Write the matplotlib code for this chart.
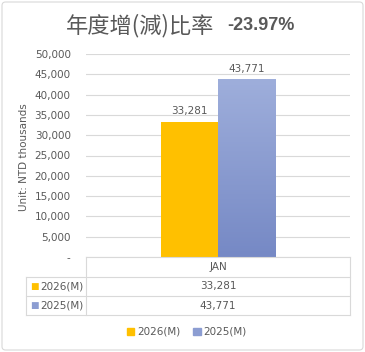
import matplotlib
matplotlib.use("Agg")
import matplotlib.pyplot as plt
import numpy as np
from matplotlib.patches import FancyBboxPatch, Patch
from matplotlib.ticker import FuncFormatter
from matplotlib.colors import LinearSegmentedColormap

# data
categories = ["JAN"]
series_names = ["2026(M)", "2025(M)"]
values_2026 = [33281]
values_2025 = [43771]
change_pct = "-23.97%"
title_text = "年度增(減)比率"
ylabel_text = "Unit: NTD thousands"
yticks = [0, 5000, 10000, 15000, 20000, 25000, 30000, 35000, 40000, 45000, 50000]

orange = "#FFC000"
blue_top = "#9EAEDB"
blue_bot = "#7689C5"
blue_mid = "#8C9DD2"
grey_txt = "#595959"
grid_col = "#D9D9D9"

plt.rcParams["font.family"] = ["DejaVu Sans"]

W, H = 365, 352
fig = plt.figure(figsize=(W / 100, H / 100), dpi=100)

# axes placed by pixel box (left 86, right 350, top 54, bottom 257)
ax = fig.add_axes([86 / W, 1 - 257 / H, 264 / W, 203 / H])

x = np.arange(len(categories))
bw = 0.217
b1 = ax.bar(x - bw / 2, values_2026, bw, color=orange, zorder=3)
b2 = ax.bar(x + bw / 2, values_2025, bw, color=blue_top, zorder=3)

# gradient fill on the blue bar (darker at the bottom)
cmap = LinearSegmentedColormap.from_list("g", [blue_bot, blue_top])
for rect in b2:
    x0, y0 = rect.get_x(), rect.get_y()
    w, h = rect.get_width(), rect.get_height()
    grad = np.linspace(0, 1, 64).reshape(-1, 1)
    im = ax.imshow(grad, cmap=cmap, origin="lower", aspect="auto",
                   extent=[x0, x0 + w, y0, y0 + h], zorder=3.5)
    im.set_clip_path(rect)
ax.set_xlim(-0.5, 0.5)
ax.set_ylim(0, 50000)

for rects, vals in ((b1, values_2026), (b2, values_2025)):
    for r, v in zip(rects, vals):
        ax.annotate(f"{v:,}", (r.get_x() + r.get_width() / 2, r.get_height()),
                    xytext=(0, 4), textcoords="offset points", ha="center",
                    va="bottom", fontsize=7.5, color=grey_txt)

ax.set_yticks(yticks)
ax.yaxis.set_major_formatter(FuncFormatter(lambda v, p: "-" if v == 0 else f"{int(v):,}"))
ax.tick_params(axis="y", length=0, pad=11, labelsize=7.5, labelcolor=grey_txt)
ax.set_xticks([])
ax.grid(axis="y", color=grid_col, linewidth=0.8, zorder=0)
for s in ax.spines.values():
    s.set_visible(False)

fig.text(24 / W, 1 - 157 / H, ylabel_text, rotation=90, ha="center", va="center",
         fontsize=7.5, color=grey_txt)

# data table under the axes
line_kw = dict(color=grid_col, linewidth=0.8)
tl, tr = 26 / W, 350 / W
cl = 86 / W
y_rows = [1 - 257 / H, 1 - 277 / H, 1 - 296 / H, 1 - 315 / H]
fig.add_artist(plt.Line2D([cl, tr], [y_rows[0]] * 2, **line_kw))
for yy in y_rows[1:]:
    fig.add_artist(plt.Line2D([tl, tr], [yy] * 2, **line_kw))
fig.add_artist(plt.Line2D([tl, tl], [y_rows[1], y_rows[3]], **line_kw))
fig.add_artist(plt.Line2D([cl, cl], [y_rows[0], y_rows[3]], **line_kw))
fig.add_artist(plt.Line2D([tr, tr], [y_rows[0], y_rows[3]], **line_kw))

cx = (cl + tr) / 2
fig.text(cx, (y_rows[0] + y_rows[1]) / 2, categories[0], ha="center", va="center",
         fontsize=7.5, color=grey_txt)
row_vals = [values_2026, values_2025]
row_cols = [orange, blue_mid]
for i, name in enumerate(series_names):
    yc = (y_rows[i + 1] + y_rows[i + 2]) / 2
    fig.text(cx, yc, f"{row_vals[i][0]:,}", ha="center", va="center",
             fontsize=7.5, color=grey_txt)
    fig.text(30 / W, yc, "■", ha="left", va="center", fontsize=6.5, color=row_cols[i])
    fig.text(40 / W, yc, name, ha="left", va="center", fontsize=7.5, color=grey_txt)

# legend
handles = [Patch(color=orange), Patch(color=blue_mid)]
fig.legend(handles, series_names, loc="center", bbox_to_anchor=(187 / W, 1 - 332 / H),
           ncol=2, frameon=False, fontsize=7.5, labelcolor=grey_txt,
           handlelength=0.7, handleheight=0.7, handletextpad=0.3, columnspacing=1.2)

# title
fig.text(214 / W, 1 - 26 / H, title_text, ha="right", va="center", fontsize=16,
         color=grey_txt, family=["Noto Sans CJK TC", "DejaVu Sans"])
fig.text(227 / W, 1 - 26 / H, change_pct, ha="left", va="center", fontsize=13,
         color=grey_txt, fontweight="bold", family=["Liberation Sans"])

# chart border
fig.add_artist(FancyBboxPatch((2 / W, 2 / H), 1 - 4 / W, 1 - 4 / H,
                              boxstyle="round,pad=0,rounding_size=0.01",
                              transform=fig.transFigure, facecolor="none",
                              edgecolor="#D9D9D9", linewidth=0.8))

fig.savefig("out.png", dpi=100)
